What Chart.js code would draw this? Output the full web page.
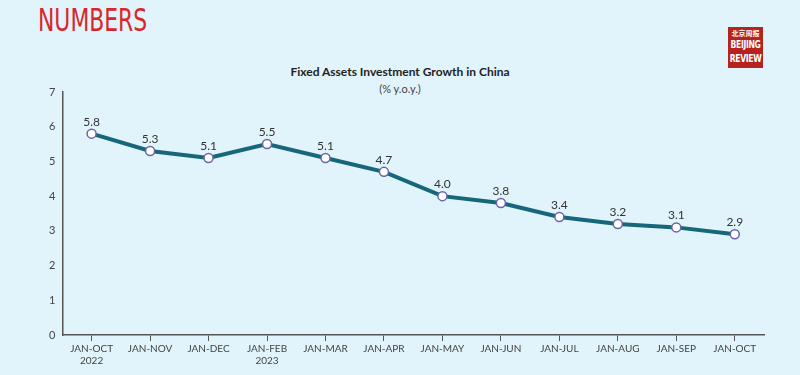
<!DOCTYPE html>
<html>
<head>
<meta charset="utf-8">
<script src="https://cdn.jsdelivr.net/npm/chart.js@4/dist/chart.umd.min.js"></script>
<style>
	body { margin: 0; background: #e1f3fb; }
	#wrap { position: relative; width: 800px; height: 375px; background: #e1f3fb; overflow: hidden; }
	#head { position: absolute; left: 38px; top: 1px; color: #d9262b; font-family: "DejaVu Sans"; font-stretch: condensed; font-size: 32px; transform: scaleX(0.76); transform-origin: left top; }
	#logo { position: absolute; left: 728px; top: 27px; width: 35px; height: 41px; background: #b5231f; color: #fff; text-align: center; font-family: "DejaVu Sans"; font-weight: bold; overflow: hidden; }
	#logo .cn { font-family: "Noto Sans CJK SC"; font-size: 7px; line-height: 9px; padding-top: 2px; }
	#logo .en { font-size: 11px; line-height: 14px; letter-spacing: -0.5px; transform: scaleX(0.7); margin: 0 -10px; }
	#title { position: absolute; left: 0; width: 800px; top: 64px; text-align: center; font-family: Lato; font-weight: bold; font-size: 12px; color: #222; }
	#sub { position: absolute; left: 0; width: 800px; top: 82px; text-align: center; font-family: Lato; font-size: 11px; color: #444; }
	canvas { position: absolute; left: 0; top: 0; }
</style>
</head>
<body>
<div id="wrap">
	<div id="head">NUMBERS</div>
	<div id="logo"><div class="cn">北京周报</div><div class="en">BEIJING</div><div class="en">REVIEW</div></div>
	<div id="title">Fixed Assets Investment Growth in China</div>
	<div id="sub">(% y.o.y.)</div>
	<canvas id="growthChart" width="800" height="375"></canvas>
</div>
<script>
var periods = [ [ 'JAN-OCT', '2022' ], 'JAN-NOV', 'JAN-DEC', [ 'JAN-FEB', '2023' ],
		'JAN-MAR', 'JAN-APR', 'JAN-MAY', 'JAN-JUN', 'JAN-JUL', 'JAN-AUG',
		'JAN-SEP', 'JAN-OCT' ];
var growth = [ 5.8, 5.3, 5.1, 5.5, 5.1, 4.7, 4.0, 3.8, 3.4, 3.2, 3.1, 2.9 ];
var yTicks = [ 0, 1, 2, 3, 4, 5, 6, 7 ];

// draws the value above every point
var valueLabels = {
	id : 'valueLabels',
	afterDatasetsDraw : function(c) {
		var ctx = c.ctx;
		var meta = c.getDatasetMeta(0);
		ctx.save();
		ctx.font = '12px Lato';
		ctx.fillStyle = '#333333';
		ctx.textAlign = 'center';
		ctx.textBaseline = 'bottom';
		meta.data.forEach(function(pt, i) {
			ctx.fillText(growth[i].toFixed(1), pt.x, pt.y - 6);
		});
		ctx.restore();
	}
};

var ctx2d = document.getElementById('growthChart').getContext('2d');
var growthChart = new Chart(ctx2d, {
	type : 'line',
	data : {
		labels : periods,
		datasets : [ {
			data : growth,
			borderColor : '#17677a',
			borderWidth : 4,
			pointBackgroundColor : '#ffffff',
			pointBorderColor : '#6b63a8',
			pointBorderWidth : 1.5,
			pointRadius : 4.5,
			tension : 0
		} ]
	},
	plugins : [ valueLabels ],
	options : {
		responsive : false,
		animation : false,
		layout : {
			padding : { left : 42, right : 36, top : 92, bottom : 6 }
		},
		plugins : {
			legend : { display : false },
			tooltip : { enabled : false }
		},
		scales : {
			x : {
				offset : true,
				grid : {
					display : true,
					drawOnChartArea : false,
					drawTicks : true,
					tickLength : 6,
					color : '#555555',
					offset : false
				},
				border : { display : true, color : '#555555', width : 1.5 },
				ticks : {
					color : '#444444',
					font : { family : 'Lato', size : 10 },
					maxRotation : 0,
					autoSkip : false,
					padding : 2
				}
			},
			y : {
				min : 0,
				max : 7,
				afterBuildTicks : function(axis) {
					axis.ticks = yTicks.map(function(v) { return { value : v }; });
				},
				grid : { display : false, drawTicks : false },
				border : { display : true, color : '#555555', width : 1.5 },
				ticks : {
					color : '#444444',
					font : { family : 'Lato', size : 11 },
					padding : 7
				}
			}
		}
	}
});
</script>
</body>
</html>
